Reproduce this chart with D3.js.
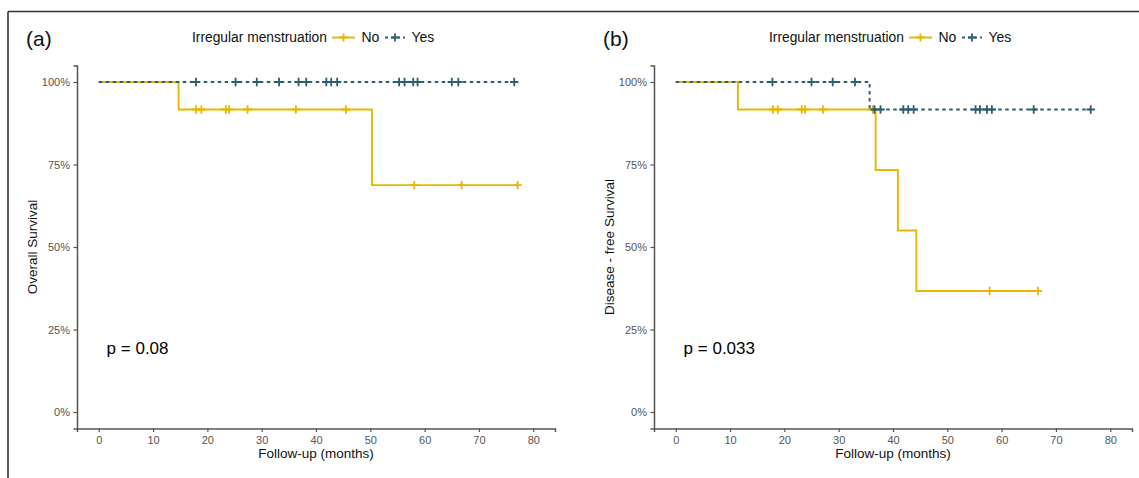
<!DOCTYPE html>
<html><head><meta charset="utf-8">
<script src="https://cdn.jsdelivr.net/npm/d3@7"></script>
<style>
html,body{margin:0;padding:0;background:#fff;}
svg{display:block;font-family:"Liberation Sans",Arial,sans-serif;}
</style></head>
<body>
<svg id="chart" width="1139" height="478"></svg>
<script>
// ---------- data ----------
const xTicks = [0, 10, 20, 30, 40, 50, 60, 70, 80];
const yTicks = [0, 0.25, 0.5, 0.75, 1];
const groups = ["No", "Yes"];
const legendTitle = "Irregular menstruation";
const xTitle = "Follow-up (months)";

// Panel (a) Overall Survival
const aNoTimes = [0, 14.7, 50.3];
const aNoSurv = [1, 0.9167, 0.6875];
const aNoEnd = 77.1;
const aNoCensor = [17.9, 18.9, 23.4, 24.0, 27.4, 36.3, 45.5, 58.1, 66.8, 77.1];
const aYesTimes = [0];
const aYesSurv = [1];
const aYesEnd = 76.5;
const aYesCensor = [17.9, 25.2, 29.1, 33.2, 36.8, 38.2, 41.9, 42.8, 43.9, 55.3, 56.3, 57.9, 58.7, 65.0, 66.2, 76.5];

// Panel (b) Disease-free Survival
const bNoTimes = [0, 11.45, 36.8, 40.9, 44.3];
const bNoSurv = [1, 0.9167, 0.7333, 0.55, 0.3667];
const bNoEnd = 66.7;
const bNoCensor = [17.9, 18.8, 23.2, 23.8, 27.1, 36.3, 57.8, 66.7];
const bYesTimes = [0, 35.7];
const bYesSurv = [1, 0.9167];
const bYesEnd = 76.4;
const bYesCensor = [17.8, 25.0, 28.9, 33.0, 36.6, 37.7, 41.9, 42.8, 43.8, 55.2, 56.0, 57.3, 58.2, 65.9, 76.4];

const panels = [
  {tag: "(a)", yTitle: "Overall Survival", p: "p = 0.08", ox: 0,
   series: [
     {name: "No", times: aNoTimes, surv: aNoSurv, end: aNoEnd, censor: aNoCensor},
     {name: "Yes", times: aYesTimes, surv: aYesSurv, end: aYesEnd, censor: aYesCensor}]},
  {tag: "(b)", yTitle: "Disease - free Survival", p: "p = 0.033", ox: 577,
   series: [
     {name: "No", times: bNoTimes, surv: bNoSurv, end: bNoEnd, censor: bNoCensor},
     {name: "Yes", times: bYesTimes, surv: bYesSurv, end: bYesEnd, censor: bYesCensor}]}
];

// ---------- style ----------
const colors = {No: "#E7B800", Yes: "#2E5C70"};
const dashes = {No: null, Yes: "3.5,3.5"};
const axisColor = "#555";
const tickColor = "#555";

const svg = d3.select("#chart");

// figure border (top + left)
svg.append("path").attr("d", "M8,11.5H1139M8,11.5V478")
  .attr("fill", "none").attr("stroke", "#333").attr("stroke-width", 1.6);

function plusPath(cx, cy, r) {
  return `M${cx - r},${cy}H${cx + r}M${cx},${cy - r}V${cy + r}`;
}

panels.forEach(P => {
  const g = svg.append("g").attr("transform", `translate(${P.ox},0)`);
  const x = d3.scaleLinear().domain([-4, 84]).range([77, 555]);
  const y = d3.scaleLinear().domain([-0.05, 1.05]).range([428.5, 65.5]);

  // axes
  const xa = g.append("g").attr("transform", `translate(0,${y(-0.05)})`)
    .call(d3.axisBottom(x).tickValues(xTicks).tickSize(3.5).tickPadding(4).tickFormat(d3.format("d")));
  const ya = g.append("g").attr("transform", `translate(${x(-4)},0)`)
    .call(d3.axisLeft(y).tickValues(yTicks).tickSize(3.5).tickPadding(3.5).tickFormat(d3.format(".0%")));
  [xa, ya].forEach(a => {
    a.select(".domain").attr("stroke", axisColor).attr("stroke-width", 1.5);
    a.selectAll(".tick line").attr("stroke", axisColor).attr("stroke-width", 1.2);
    a.selectAll(".tick text").attr("fill", tickColor).style("font-size", "11px")
      .style("font-family", '"Liberation Sans",Arial,sans-serif');
  });

  // curves
  P.series.forEach(s => {
    const pts = s.times.map((t, i) => [t, s.surv[i]]);
    pts.push([s.end, s.surv[s.surv.length - 1]]);
    const line = d3.line().x(d => x(d[0])).y(d => y(d[1])).curve(d3.curveStepAfter);
    g.append("path").attr("d", line(pts)).attr("fill", "none")
      .attr("stroke", colors[s.name]).attr("stroke-width", 1.9)
      .attr("stroke-dasharray", dashes[s.name]);
    const survAt = t => s.surv[d3.bisectRight(s.times, t) - 1];
    g.append("g").selectAll("path").data(s.censor).join("path")
      .attr("d", t => plusPath(x(t), y(survAt(t)), 4.2))
      .attr("stroke", colors[s.name]).attr("stroke-width", 1.8).attr("fill", "none");
  });

  // tag
  g.append("text").attr("x", 26).attr("y", 46).text(P.tag)
    .style("font-size", "21px").attr("fill", "#111");

  // legend
  const lg = g.append("g");
  lg.append("text").attr("x", 192).attr("y", 42).text(legendTitle)
    .style("font-size", "13.8px").attr("fill", "#111");
  const keys = [{name: "No", x0: 332, x1: 355, tx: 361.5}, {name: "Yes", x0: 385, x1: 405, tx: 411.5}];
  keys.forEach(k => {
    lg.append("path").attr("d", `M${k.x0},37.5H${k.x1}`).attr("stroke", colors[k.name])
      .attr("stroke-width", 1.9).attr("stroke-dasharray", dashes[k.name] ? "3,3" : null);
    lg.append("path").attr("d", plusPath((k.x0 + k.x1) / 2, 37.5, 4)).attr("stroke", colors[k.name])
      .attr("stroke-width", 1.8);
    lg.append("text").attr("x", k.tx).attr("y", 42).text(k.name)
      .style("font-size", "14px").attr("fill", "#111");
  });

  // axis titles
  g.append("text").attr("x", (x(-4) + x(84)) / 2).attr("y", 458).attr("text-anchor", "middle")
    .text(xTitle).style("font-size", "13.5px").attr("fill", "#111");
  g.append("text").attr("transform", `translate(37,${(y(-0.05) + y(1.05)) / 2}) rotate(-90)`)
    .attr("text-anchor", "middle").text(P.yTitle).style("font-size", "13.5px").attr("fill", "#111");

  // p-value
  g.append("text").attr("x", x(1.45)).attr("y", y(0.176)).text(P.p)
    .style("font-size", "17px").attr("fill", "#000");
});
</script>
</body></html>
